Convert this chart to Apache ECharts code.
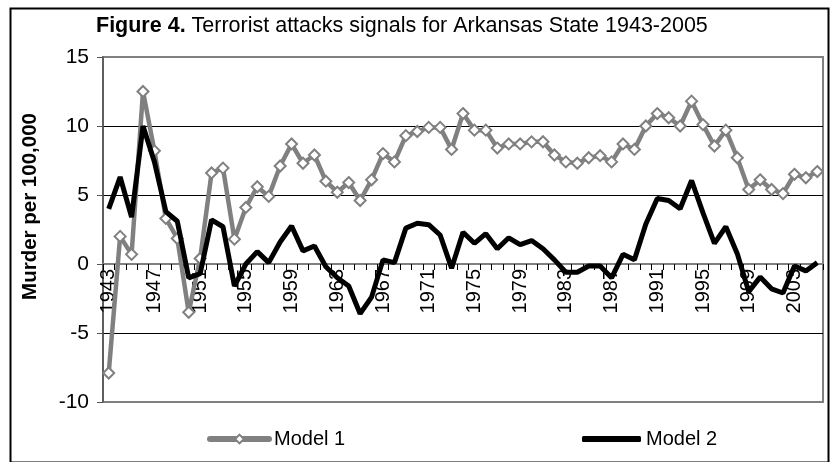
<!DOCTYPE html>
<html>
<head>
<meta charset="utf-8">
<script src="https://cdn.jsdelivr.net/npm/echarts@6/dist/echarts.min.js"></script>
<style>
html,body{margin:0;padding:0;background:#fff;}
#chart{width:830px;height:462px;}
</style>
</head>
<body>
<div id="chart"></div>
<script>
const years = ['1943','1944','1945','1946','1947','1948','1949','1950','1951','1952','1953','1954','1955','1956','1957','1958','1959','1960','1961','1962','1963','1964','1965','1966','1967','1968','1969','1970','1971','1972','1973','1974','1975','1976','1977','1978','1979','1980','1981','1982','1983','1984','1985','1986','1987','1988','1989','1990','1991','1992','1993','1994','1995','1996','1997','1998','1999','2000','2001','2002','2003','2004','2005'];
const model1 = [-7.9, 2.0, 0.7, 12.5, 8.2, 3.3, 1.85, -3.5, 0.4, 6.6, 6.95, 1.8, 4.1, 5.6, 4.9, 7.1, 8.7, 7.3, 7.9, 6.0, 5.2, 5.9, 4.6, 6.1, 8.0, 7.4, 9.3, 9.6, 9.9, 9.9, 8.3, 10.9, 9.7, 9.7, 8.4, 8.7, 8.7, 8.85, 8.86, 7.9, 7.4, 7.3, 7.7, 7.85, 7.4, 8.7, 8.3, 10.0, 10.9, 10.6, 10.0, 11.8, 10.1, 8.55, 9.7, 7.7, 5.4, 6.1, 5.4, 5.1, 6.5, 6.25, 6.7];
const model2 = [4.0, 6.3, 3.4, 10.0, 7.4, 3.8, 3.1, -1.0, -0.7, 3.2, 2.7, -1.6, 0.0, 0.9, 0.1, 1.6, 2.75, 0.95, 1.3, -0.2, -1.0, -1.6, -3.6, -2.4, 0.3, 0.1, 2.6, 2.95, 2.85, 2.1, -0.3, 2.3, 1.5, 2.2, 1.1, 1.9, 1.4, 1.7, 1.1, 0.3, -0.6, -0.6, -0.15, -0.15, -1.0, 0.7, 0.3, 2.9, 4.75, 4.6, 4.0, 6.05, 3.7, 1.5, 2.7, 0.75, -2.0, -0.95, -1.8, -2.1, -0.15, -0.5, 0.1];
const seriesNames = ['Model 1', 'Model 2'];
const titleBold = 'Figure 4.';
const titleRest = ' Terrorist attacks signals for Arkansas State 1943-2005';
const yAxisName = 'Murder per 100,000';

const FONT = 'Arial, "Liberation Sans", sans-serif';
const yMin = -10, yMax = 15;
const gridTop = 57, gridBottom = 60, chartH = 462;
const plotH = chartH - gridTop - gridBottom;
// place the category axis on the value 0 line
const zeroOffset = -plotH * (0 - yMin) / (yMax - yMin);

const chart = echarts.init(document.getElementById('chart'), null, {renderer: 'canvas'});
chart.setOption({
  animation: false,
  backgroundColor: '#fff',
  textStyle: {fontFamily: FONT},
  title: {
    text: '{b|' + titleBold + '}{n|' + titleRest + '}',
    left: 96, top: 15, padding: 0,
    textStyle: {
      rich: {
        b: {fontFamily: FONT, fontSize: 21.5, fontWeight: 'bold', color: '#000'},
        n: {fontFamily: FONT, fontSize: 21.5, fontWeight: 'normal', color: '#000'}
      }
    }
  },
  graphic: [{
    type: 'rect', left: 8, top: 6, z: 100, silent: true,
    shape: {width: 818, height: 454},
    style: {fill: 'none', stroke: '#000', lineWidth: 2}
  }],
  legend: [{
    data: [{name: seriesNames[0]}], left: 207, top: 429, padding: 0,
    itemWidth: 59, itemHeight: 11, itemGap: 5,
    lineStyle: {width: 6, color: '#808080', cap: 'round'},
    itemStyle: {color: '#fff', borderColor: '#808080', borderWidth: 2},
    textStyle: {fontFamily: FONT, fontSize: 20, color: '#000'}
  }, {
    data: [{name: seriesNames[1], icon: 'roundRect'}], left: 582, top: 429, padding: 0,
    itemWidth: 59, itemHeight: 6, itemGap: 5,
    textStyle: {fontFamily: FONT, fontSize: 20, color: '#000'}
  }],
  grid: {
    left: 103, right: 7, top: gridTop, bottom: gridBottom,
    show: true, borderColor: '#808080', borderWidth: 2, backgroundColor: 'transparent'
  },
  xAxis: {
    type: 'category', data: years, boundaryGap: true,
    offset: zeroOffset,
    axisLine: {show: true, onZero: false, lineStyle: {color: '#808080', width: 2}},
    axisTick: {show: true, interval: 0, length: 6, inside: false, lineStyle: {color: '#000', width: 1}},
    axisLabel: {interval: 3, rotate: 90, fontSize: 20, color: '#000', margin: 5, fontFamily: FONT},
    splitLine: {show: false}
  },
  yAxis: {
    type: 'value', min: yMin, max: yMax, interval: 5,
    name: yAxisName, nameLocation: 'middle', nameGap: 62, nameRotate: 90,
    nameTextStyle: {fontFamily: FONT, fontSize: 20.5, fontWeight: 'bold', color: '#000', padding: [0,0,0,46]},
    axisLine: {show: true, lineStyle: {color: '#555', width: 1.5}},
    axisTick: {show: true, length: 6, lineStyle: {color: '#555'}},
    axisLabel: {fontSize: 21, color: '#000', margin: 14, fontFamily: FONT},
    splitLine: {show: true, showMinLine: false, showMaxLine: false, lineStyle: {color: '#000', width: 1}}
  },
  series: [{
    name: seriesNames[0], type: 'line', data: model1,
    symbol: 'diamond', symbolSize: 11, showAllSymbol: true,
    lineStyle: {color: '#808080', width: 4.5},
    itemStyle: {color: '#fff', borderColor: '#808080', borderWidth: 2},
    z: 2
  }, {
    name: seriesNames[1], type: 'line', data: model2,
    symbol: 'none',
    lineStyle: {color: '#000', width: 5},
    itemStyle: {color: '#000'},
    z: 3
  }]
});
</script>
</body>
</html>
